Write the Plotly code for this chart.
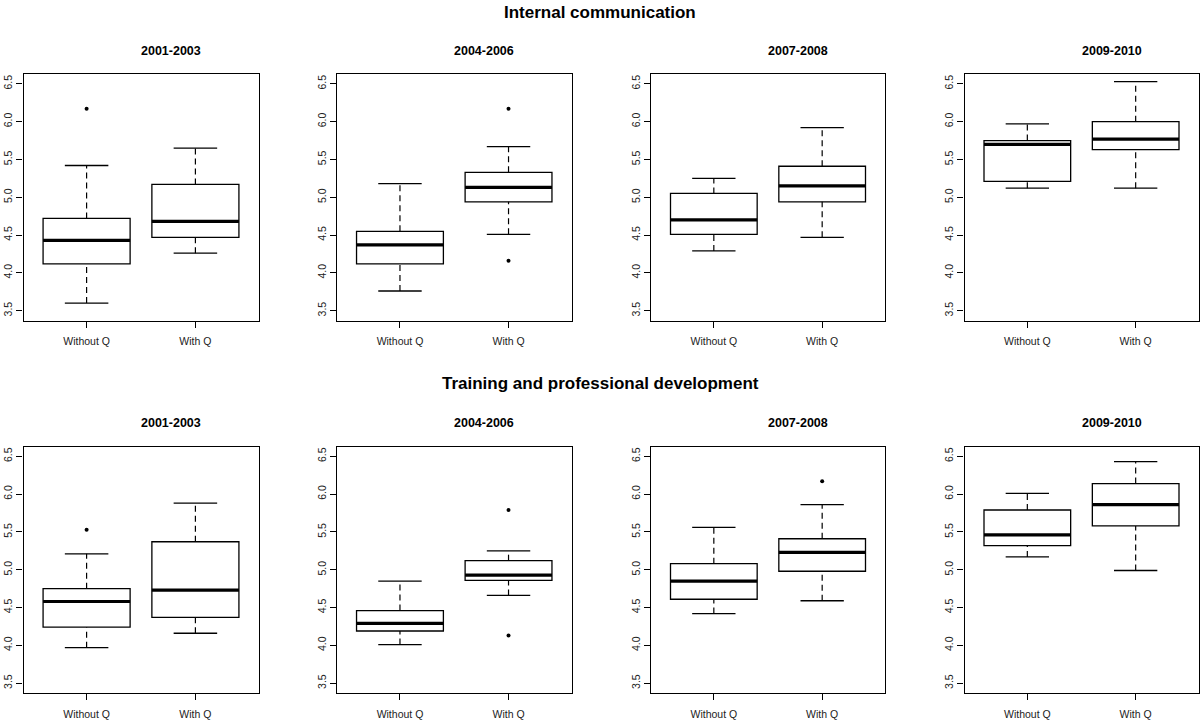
import plotly.graph_objects as go

# ---------------- data ----------------
periods = ["2001-2003", "2004-2006", "2007-2008", "2009-2010"]
groups = ["Without Q", "With Q"]
section_titles = ["Internal communication", "Training and professional development"]
y_ticks = [3.5, 4.0, 4.5, 5.0, 5.5, 6.0, 6.5]

# Internal communication: [period][group]
ic_lower = [[3.60, 4.26], [3.76, 4.51], [4.29, 4.47], [5.12, 5.12]]
ic_q1 = [[4.12, 4.47], [4.12, 4.94], [4.51, 4.94], [5.21, 5.63]]
ic_median = [[4.43, 4.68], [4.37, 5.13], [4.70, 5.15], [5.70, 5.77]]
ic_q3 = [[4.72, 5.17], [4.55, 5.33], [5.05, 5.41], [5.75, 6.00]]
ic_upper = [[5.42, 5.65], [5.18, 5.67], [5.25, 5.92], [5.97, 6.53]]
ic_outliers = [[[6.17], []], [[], [6.17, 4.16]], [[], []], [[], []]]

# Training and professional development: [period][group]
tpd_lower = [[3.97, 4.16], [4.01, 4.66], [4.42, 4.59], [5.17, 4.99]]
tpd_q1 = [[4.24, 4.37], [4.19, 4.86], [4.61, 4.98], [5.32, 5.58]]
tpd_median = [[4.58, 4.73], [4.29, 4.93], [4.85, 5.23], [5.46, 5.86]]
tpd_q3 = [[4.75, 5.37], [4.46, 5.12], [5.08, 5.41], [5.79, 6.14]]
tpd_upper = [[5.21, 5.88], [4.85, 5.25], [5.56, 5.86], [6.01, 6.43]]
tpd_outliers = [[[5.53], []], [[], [5.79, 4.13]], [[], [6.17]], [[], []]]

sections = [
    (ic_lower, ic_q1, ic_median, ic_q3, ic_upper, ic_outliers),
    (tpd_lower, tpd_q1, tpd_median, tpd_q3, tpd_upper, tpd_outliers),
]

# ---------------- layout geometry (pixels) ----------------
W, H = 1200, 720
col_px = [(23.5, 258.5), (337.0, 571.5), (651.0, 885.0), (964.5, 1198.5)]
row_px = [(74.0, 320.5), (446.5, 693.0)]
title_y_px = [12, 383]
sub_title_y_px = [51, 423]
sub_title_dx = 30

BOX_W = 0.8
STAPLE_W = 0.4
FONT = "Liberation Sans, Arial, Helvetica, sans-serif"

fig = go.Figure()
layout = {}
annotations = []

idx = 0
for r, sec in enumerate(sections):
    lower, q1, med, q3, upper, outl = sec
    for c, period in enumerate(periods):
        idx += 1
        xa = "x" if idx == 1 else f"x{idx}"
        ya = "y" if idx == 1 else f"y{idx}"
        pos = [i + 1 for i in range(len(groups))]

        # box bodies
        fig.add_trace(go.Box(
            x=pos, q1=q1[c], median=med[c], q3=q3[c],
            lowerfence=q1[c], upperfence=q3[c],
            width=BOX_W, fillcolor="white",
            line=dict(color="black", width=1.3),
            whiskerwidth=0, boxpoints=False,
            xaxis=xa, yaxis=ya, showlegend=False, hoverinfo="skip",
        ))
        # dashed whiskers, staples, thick medians
        wx, wy = [], []
        sx, sy = [], []
        mx, my = [], []
        for g, p in enumerate(pos):
            wx += [p, p, None, p, p, None]
            wy += [q3[c][g], upper[c][g], None, lower[c][g], q1[c][g], None]
            sx += [p - STAPLE_W / 2, p + STAPLE_W / 2, None, p - STAPLE_W / 2, p + STAPLE_W / 2, None]
            sy += [upper[c][g], upper[c][g], None, lower[c][g], lower[c][g], None]
            mx += [p - BOX_W / 2, p + BOX_W / 2, None]
            my += [med[c][g], med[c][g], None]
        fig.add_trace(go.Scatter(
            x=wx, y=wy, mode="lines",
            line=dict(color="black", width=1.2, dash="6px,4px"),
            xaxis=xa, yaxis=ya, showlegend=False, hoverinfo="skip",
        ))
        fig.add_trace(go.Scatter(
            x=sx, y=sy, mode="lines",
            line=dict(color="black", width=1.3),
            xaxis=xa, yaxis=ya, showlegend=False, hoverinfo="skip",
        ))
        fig.add_trace(go.Scatter(
            x=mx, y=my, mode="lines",
            line=dict(color="black", width=3.2),
            xaxis=xa, yaxis=ya, showlegend=False, hoverinfo="skip",
        ))
        # outliers
        ox, oy = [], []
        for g, p in enumerate(pos):
            for v in outl[c][g]:
                ox.append(p)
                oy.append(v)
        if ox:
            fig.add_trace(go.Scatter(
                x=ox, y=oy, mode="markers",
                marker=dict(color="black", size=4),
                xaxis=xa, yaxis=ya, showlegend=False, hoverinfo="skip",
            ))

        x0, x1 = col_px[c]
        y0, y1 = row_px[r]
        layout["xaxis" if idx == 1 else f"xaxis{idx}"] = dict(
            domain=[x0 / W, x1 / W], anchor=ya,
            range=[0.42, 2.58], tickvals=pos, ticktext=groups,
            ticks="outside", ticklen=6, tickcolor="black", tickwidth=1,
            ticklabelstandoff=5,
            showline=True, mirror=True, linecolor="black", linewidth=1.2,
            showgrid=False, zeroline=False, fixedrange=True,
            tickfont=dict(family=FONT, size=10.5, color="#222"),
        )
        layout["yaxis" if idx == 1 else f"yaxis{idx}"] = dict(
            domain=[1 - y1 / H, 1 - y0 / H], anchor=xa,
            range=[3.37, 6.63], tickvals=y_ticks,
            ticktext=[f"{v:.1f}" for v in y_ticks], tickangle=-90,
            ticks="outside", ticklen=6, tickcolor="black", tickwidth=1,
            showline=True, mirror=True, linecolor="black", linewidth=1.2,
            showgrid=False, zeroline=False, fixedrange=True,
            tickfont=dict(family=FONT, size=10.5, color="#222"),
        )
        annotations.append(dict(
            text=f"<b>{period}</b>", xref="paper", yref="paper",
            x=((x0 + x1) / 2 + sub_title_dx) / W, y=1 - sub_title_y_px[r] / H,
            xanchor="center", yanchor="middle", showarrow=False,
            font=dict(family=FONT, size=12.5, color="black"),
        ))

for r, t in enumerate(section_titles):
    annotations.append(dict(
        text=f"<b>{t}</b>", xref="paper", yref="paper",
        x=0.5, y=1 - title_y_px[r] / H, xanchor="center", yanchor="middle",
        showarrow=False, font=dict(family=FONT, size=17, color="black"),
    ))

fig.update_layout(
    width=W, height=H, margin=dict(l=0, r=0, t=0, b=0),
    paper_bgcolor="white", plot_bgcolor="white",
    annotations=annotations, showlegend=False,
    **layout,
)

fig.write_html(
    "out.html",
    config={"displayModeBar": False},
    post_script="document.body.style.margin='0';document.body.style.overflow='hidden';",
)
